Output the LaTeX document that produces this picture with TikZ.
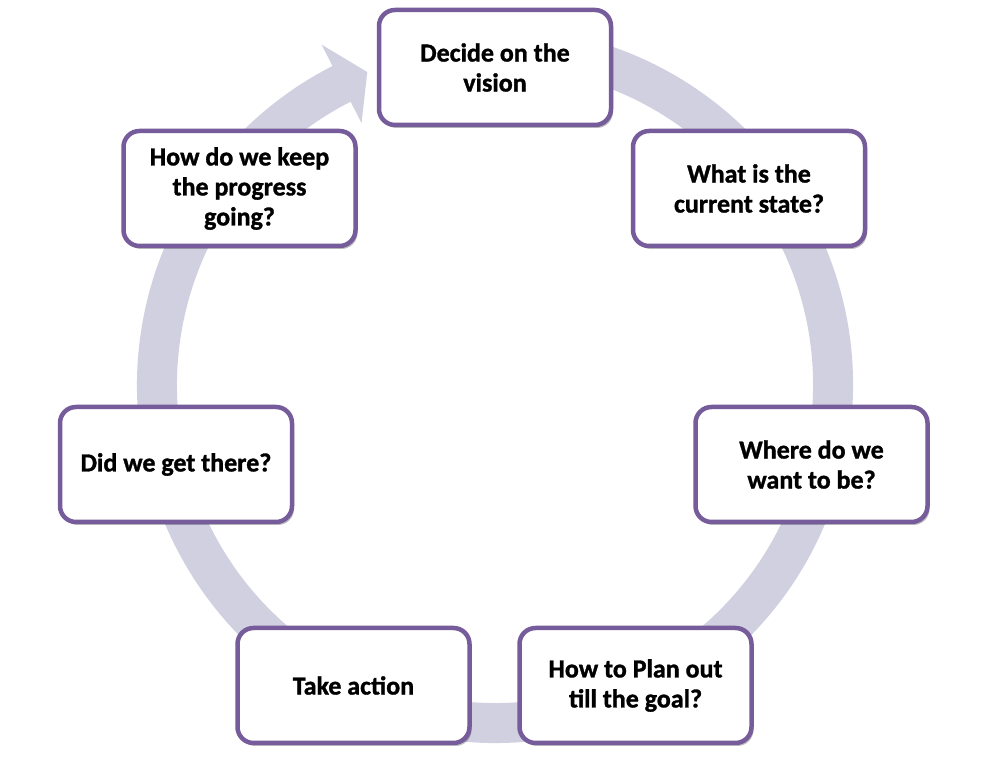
\documentclass[tikz,border=0pt]{standalone}
\usepackage{fontspec}
\setmainfont{Carlito}[BoldFeatures={FakeBold=1.2}]
\usetikzlibrary{shadows}
\definecolor{ringc}{RGB}{209,208,225}
\definecolor{boxc}{RGB}{118,92,154}
\tikzset{
  cyclebox/.style={draw=boxc, line width=4.5pt, fill=white, rounded corners=16pt,
    minimum width=232pt, minimum height=115pt, align=center, inner sep=4pt,
    font=\bfseries\fontsize{26}{30}\selectfont,
    drop shadow={shadow xshift=2pt, shadow yshift=-3pt, opacity=0.25, fill=black}}
}
\begin{document}
\begin{tikzpicture}[x=1pt,y=1pt]
\useasboundingbox (0,0) rectangle (990,759);
\fill[white] (0,0) rectangle (990,759);
% ring arrow
\begin{scope}[shift={(495,374)}]
\fill[ringc] (80:358pt) arc[start angle=80, end angle=-243, radius=358pt]
  -- (-243:382pt) -- (-247.8:338pt) -- (-243:294pt) -- (-243:318pt)
  arc[start angle=-243, end angle=80, radius=318pt] -- cycle;
\end{scope}
\node[cyclebox] (vision) at (495,691.5) {Decide on the\\vision};
\node[cyclebox] (current) at (749,570.5) {What is the\\current state?};
\node[cyclebox] (where) at (811.5,294.5) {Where do we\\want to be?};
\node[cyclebox] (plan) at (635.5,73.5) {How to Plan out\\till the goal?};
\node[cyclebox] (action) at (353.5,73.5) {Take action};
\node[cyclebox] (there) at (176,294.5) {Did we get there?};
\node[cyclebox] (keep) at (239.5,570.5) {How do we keep\\the progress\\going?};
\end{tikzpicture}
\end{document}
